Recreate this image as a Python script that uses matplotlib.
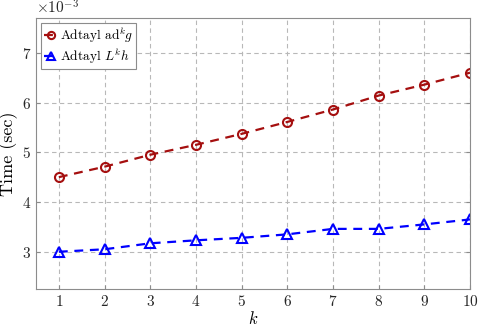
import numpy as np
import matplotlib
matplotlib.use("Agg")
import matplotlib.pyplot as plt

# data (seconds x 1e-3)
k = [1, 2, 3, 4, 5, 6, 7, 8, 9, 10]
adk_g = [4.50, 4.71, 4.95, 5.15, 5.37, 5.61, 5.86, 6.14, 6.36, 6.60]
Lk_h = [3.00, 3.05, 3.17, 3.23, 3.28, 3.35, 3.46, 3.46, 3.55, 3.65]

plt.rcParams['font.family'] = 'serif'
plt.rcParams['font.serif'] = ['cmr10']
plt.rcParams['mathtext.fontset'] = 'cm'
plt.rcParams['axes.formatter.use_mathtext'] = True
plt.rcParams['axes.unicode_minus'] = True

fig = plt.figure(figsize=(4.78, 3.27), dpi=100)
ax = fig.add_axes([0.0753, 0.116, 0.908, 0.829])

red = '#A50F0F'
blue = '#0000FF'
ax.plot(k, np.array(adk_g) * 1e-3, '--o', color=red, lw=1.6, ms=6.5,
        mfc='none', mew=1.5, dashes=(4, 3), label=r'Adtayl ad$^{k}g$')
ax.plot(k, np.array(Lk_h) * 1e-3, '--^', color=blue, lw=1.6, ms=6.5,
        mfc='none', mew=1.5, dashes=(4, 3), label=r'Adtayl $L^k h$')

ax.set_xlim(0.5, 10)
ax.set_ylim(2.25e-3, 7.7e-3)
ax.set_xticks(k)
ax.set_yticks([3e-3, 4e-3, 5e-3, 6e-3, 7e-3])
ax.ticklabel_format(axis='y', style='sci', scilimits=(0, 0))
ax.yaxis.get_offset_text().set_fontsize(11)

ax.grid(True, ls=(0, (4, 3)), color='#b8b8b8', lw=0.8)
for s in ax.spines.values():
    s.set_color('#8c8c8c')
ax.tick_params(direction='in', colors='#262626', labelsize=11, length=3,
               top=False, right=True, color='#8c8c8c')

ax.set_xlabel('$k$', fontsize=12, labelpad=1)
ax.set_ylabel('Time (sec)', fontsize=13, labelpad=3)

leg = ax.legend(loc='upper left', fontsize=9.6, handlelength=1.05,
                handletextpad=0.15, borderpad=0.25, labelspacing=0.12,
                borderaxespad=0.35, fancybox=False, framealpha=1,
                markerscale=0.8)
leg.get_frame().set_edgecolor('#8c8c8c')
leg.get_frame().set_linewidth(0.8)

fig.savefig('out.png', dpi=100)
